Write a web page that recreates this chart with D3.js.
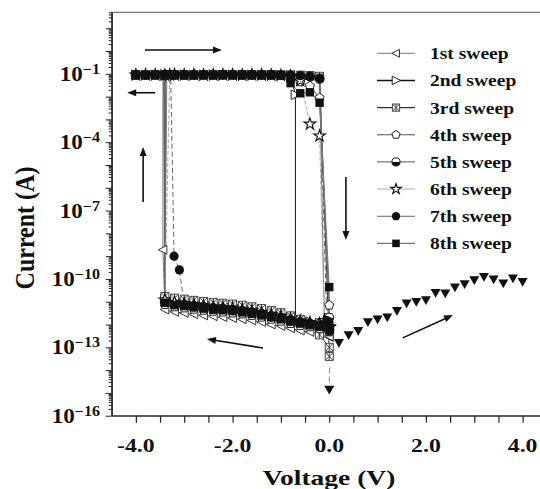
<!DOCTYPE html>
<html><head><meta charset="utf-8">
<script src="https://cdn.jsdelivr.net/npm/d3@7"></script>
<style>body{margin:0;background:#fff}svg{display:block}text{font-family:"Liberation Serif","Times New Roman",serif;font-weight:bold;fill:#111}</style>
</head><body><svg id="c" width="540" height="489"></svg>
<script>
// ---------------- data ----------------
const legendLabels = ["1st sweep","2nd sweep","3rd sweep","4th sweep","5th sweep","6th sweep","7th sweep","8th sweep"];
const xTickLabels = ["-4.0","-2.0","0.0","2.0","4.0"];
const xTickLabelValues = [-4.0,-2.0,0.0,2.0,4.0];
const yTickLabelExps = ["\u22121","\u22124","\u22127","\u221210","\u221213","\u221216"];
const yTickLabelValues = [1e-1,1e-4,1e-7,1e-10,1e-13,1e-16];

// voltage grids (V)
const lowVolt  = [0.0,-0.2,-0.4,-0.6,-0.8,-1.0,-1.2,-1.4,-1.6,-1.8,-2.0,-2.2,-2.4,-2.6,-2.8,-3.0,-3.2,-3.4];
const highVolt = [-4.0,-3.8,-3.6,-3.4,-3.2,-3.0,-2.8,-2.6,-2.4,-2.2,-2.0,-1.8,-1.6,-1.4,-1.2,-1.0,-0.8,-0.6,-0.4,-0.2];
const posVolt  = [0.0,0.2,0.4,0.6,0.8,1.0,1.2,1.4,1.6,1.8,2.0,2.2,2.4,2.6,2.8,3.0,3.2,3.4,3.6,3.8,4.0];

// sweep 1
const s1Low = [2.8e-13,4.0e-13,4.7e-13,5.4e-13,6.8e-13,8.6e-13,1.0e-12,1.3e-12,1.5e-12,1.7e-12,1.9e-12,2.1e-12,2.3e-12,2.5e-12,2.8e-12,3.2e-12,3.6e-12,4.5e-12];
const s1SetV = [-3.44,-3.44], s1SetI = [1.9e-9,0.088];
const s1High = [0.088,0.090,0.092,0.090,0.089,0.091,0.090,0.092,0.090,0.091,0.089,0.090,0.092,0.090,0.091,0.090,0.088,0.086,0.080,0.070];
const s1ResetV = [-0.1,0.0], s1ResetI = [1.2e-12,3.0e-13];
// sweep 2
const s2Low = [8.2e-13,1.15e-12,1.35e-12,1.55e-12,1.95e-12,2.5e-12,3.0e-12,3.6e-12,4.3e-12,4.9e-12,5.6e-12,6.1e-12,6.5e-12,7.3e-12,8.2e-12,9.2e-12,1.0e-11,1.3e-11];
const s2SetV = [-3.4], s2SetI = [0.092];
const s2High = [0.092,0.090,0.091,0.093,0.090,0.092,0.090,0.091,0.093,0.090,0.092,0.090,0.091,0.090,0.089,0.088,0.085];
const s2ResetV = [-0.7,-0.7,-0.6,-0.4,-0.2,0.0], s2ResetI = [0.012,2.0e-12,1.3e-12,1.1e-12,9.0e-13,7.0e-13];
// sweep 3
const s3Low = [1.0e-13,3.5e-13,9.0e-13,1.7e-12,2.4e-12,3.3e-12,4.1e-12,5.0e-12,6.0e-12,7.0e-12,7.9e-12,8.6e-12,9.2e-12,1.03e-11,1.15e-11,1.3e-11,1.45e-11,1.7e-11];
const s3SetV = [-3.42], s3SetI = [0.090];
const s3High = [0.090,0.091,0.089,0.092,0.090,0.088,0.091,0.090,0.089,0.092,0.090,0.091,0.089,0.090,0.092,0.090,0.089,0.087,0.084,0.078];
const s3ResetV = [-0.02,0.0], s3ResetI = [2.0e-12,4.0e-14];
// sweep 4
const s4Low = [4.7e-13,6.7e-13,7.9e-13,9.0e-13,1.1e-12,1.4e-12,1.7e-12,2.1e-12,2.5e-12,2.9e-12,3.2e-12,3.5e-12,3.8e-12,4.2e-12,4.7e-12,5.3e-12,5.9e-12,7.5e-12];
const s4SetV = [-3.38], s4SetI = [0.087];
const s4High = [0.089,0.090,0.092,0.090,0.091,0.089,0.090,0.092,0.091,0.090,0.089,0.091,0.090,0.089,0.088,0.085,0.072,0.044,0.029,0.0087];
const s4ResetV = [0.0,0.0], s4ResetI = [7.0e-12,5.0e-13];
// sweep 5
const s5Low = [6.0e-13,9.2e-13,1.0e-12,1.25e-12,1.45e-12,1.95e-12,2.2e-12,2.9e-12,3.2e-12,3.9e-12,4.2e-12,4.8e-12,4.9e-12,5.7e-12,6.1e-12,7.3e-12,7.7e-12,1.05e-11];
const s5SetV = [-3.36], s5SetI = [0.090];
const s5High = [0.091,0.089,0.090,0.092,0.090,0.091,0.089,0.090,0.091,0.090,0.092,0.089,0.090,0.091,0.090,0.088,0.086,0.082,0.075,0.060];
const s5ResetV = [0.0,0.0], s5ResetI = [2.0e-12,5.5e-13];
// sweep 6
const s6Low = [7.5e-13,1.1e-12,1.25e-12,1.45e-12,1.8e-12,2.3e-12,2.75e-12,3.35e-12,4.0e-12,4.6e-12,5.2e-12,5.6e-12,6.0e-12,6.7e-12,7.6e-12,8.5e-12,9.5e-12,1.2e-11];
const s6SetV = [-3.3], s6SetI = [0.090];
const s6High = [0.090,0.092,0.090,0.089,0.091,0.090,0.092,0.089,0.090,0.091,0.090,0.089,0.091,0.090,0.088,0.086,0.080,0.050];
const s6ResetV = [-0.4,-0.2,-0.1,0.0], s6ResetI = [6.3e-4,1.9e-4,1.5e-12,8.0e-13];
// sweep 7
const s7Low = [7.0e-13,9.8e-13,1.15e-12,1.3e-12,1.65e-12,2.1e-12,2.5e-12,3.1e-12,3.6e-12,4.2e-12,4.7e-12,5.2e-12,5.5e-12,6.2e-12,6.9e-12,7.8e-12];
const s7SetV = [-3.1,-3.21,-3.28], s7SetI = [2.5e-10,1.0e-9,0.090];
const s7High = [0.089,0.091,0.090,0.092,0.089,0.090,0.091,0.090,0.089,0.092,0.090,0.091,0.090,0.089,0.090,0.088,0.086,0.083,0.078,0.065];
const s7ResetV = [-0.05,0.0], s7ResetI = [1.5e-12,6.5e-13];
// sweep 8
const s8Low = [5.7e-13,8.0e-13,9.5e-13,1.1e-12,1.35e-12,1.7e-12,2.1e-12,2.5e-12,3.0e-12,3.4e-12,3.9e-12,4.2e-12,4.5e-12,5.0e-12,5.7e-12,6.4e-12,7.1e-12,9.0e-12];
const s8SetV = [-3.4], s8SetI = [0.088];
const s8High = [0.090,0.089,0.091,0.090,0.092,0.090,0.089,0.091,0.090,0.092,0.089,0.090,0.091,0.090,0.089,0.085,0.039,0.014,0.0155,0.0054];
const s8ResetV = [0.0,0.0], s8ResetI = [4.4e-11,1.0e-12];
// positive sweep (0 -> 4 V)
const posCurr = [1.4e-15,1.6e-13,3.5e-13,5.4e-13,1.3e-12,1.7e-12,2.1e-12,4.0e-12,8.5e-12,1.0e-11,1.2e-11,2.5e-11,2.35e-11,4.3e-11,6.0e-11,9.0e-11,1.26e-10,9.7e-11,6.5e-11,1.07e-10,7.6e-11];
// faint dashed trace above the lowest point at 0 V
const tailVolt = [0.01,0.0], tailCurr = [1.3e-14,3.0e-15];

// annotation arrows in data units [V, A] start -> end
const arrowStarts = [[-3.81,1.11],[-3.60,0.0148],[-3.85,2.4e-7],[0.345,3.0e-6],[-1.37,9.3e-14],[1.52,2.6e-13]];
const arrowEnds   = [[-2.22,1.11],[-4.18,0.0148],[-3.85,6.2e-5],[0.345,5.1e-9],[-2.53,2.3e-13],[2.56,2.6e-12]];

// ---------------- chart ----------------
const svg = d3.select("#c");
const x = d3.scaleLinear().domain([-4.5,4.5]).range([111.7,546.8]);
const y = d3.scaleLog().domain([1e-16,50]).range([415.7,12.3]);

function stext(g, tx, ty, str, size, anchor, sx){
  return g.append("text").attr("transform",`translate(${tx},${ty}) scale(${sx},1)`)
    .attr("text-anchor",anchor).attr("font-size",size).text(str);
}

// frame
svg.append("rect").attr("x",x(-4.5)).attr("y",y(50)).attr("width",x(4.5)-x(-4.5)).attr("height",y(1e-16)-y(50))
  .attr("fill","none").attr("stroke","#555").attr("stroke-width",1);

// y axis ticks
const decades = d3.range(-16,2);
const majorTicks = decades.map(e=>Math.pow(10,e));
const minorTicks = [];
decades.forEach(e=>{for(let m=2;m<=9;m++){const v=m*Math.pow(10,e); if(v<=50) minorTicks.push(v);}});
const yAxMajor = svg.append("g").attr("transform",`translate(${x(-4.5)},0)`)
  .call(d3.axisLeft(y).tickValues(majorTicks).tickSize(6).tickSizeOuter(0).tickFormat(""));
const yAxMinor = svg.append("g").attr("transform",`translate(${x(-4.5)},0)`)
  .call(d3.axisLeft(y).tickValues(minorTicks).tickSize(3).tickSizeOuter(0).tickFormat(""));
[yAxMajor,yAxMinor].forEach(g=>{g.selectAll("line").attr("stroke","#222"); g.select(".domain").attr("stroke","#222");});

// x axis ticks
const xTickVals = d3.range(-4.0,4.51,0.5);
const xAx = svg.append("g").attr("transform",`translate(0,${y(1e-16)})`)
  .call(d3.axisBottom(x).tickValues(xTickVals).tickSize(7).tickSizeOuter(0).tickFormat(""));
xAx.selectAll("line").attr("stroke","#222").attr("stroke-width",1.2);
xAx.select(".domain").attr("stroke","#222");

// tick labels
xTickLabels.forEach((t,i)=> stext(svg, x(xTickLabelValues[i]), 452, t, 19, "middle", 1.25));
yTickLabelExps.forEach((t,i)=>{
  const tx = svg.append("text").attr("transform",`translate(100,${y(yTickLabelValues[i])+7}) scale(1.15,1)`)
    .attr("text-anchor","end").attr("font-size",20);
  tx.append("tspan").text("10");
  tx.append("tspan").attr("dy",-7).attr("font-size",14).text(t);
});

// axis titles
stext(svg, 329, 485, "Voltage (V)", 22, "middle", 1.25);
svg.append("text").attr("transform","translate(34,228) scale(1.15,1) rotate(-90)")
  .attr("text-anchor","middle").attr("font-size",24).text("Current (A)");

// markers
function pentPath(r){
  const p = d3.range(5).map(k=>{const a=-Math.PI/2+k*2*Math.PI/5; return [r*Math.cos(a), r*Math.sin(a)];});
  return "M"+p.map(d=>d.join(",")).join("L")+"Z";
}
function drawMarker(g, type, r){
  if(type==="triL") g.append("path").attr("d",`M${-r},0L${r*0.85},${-r*0.95}L${r*0.85},${r*0.95}Z`).attr("fill","#fff").attr("stroke","#333");
  else if(type==="triR") g.append("path").attr("d",`M${r},0L${-r*0.85},${-r*0.95}L${-r*0.85},${r*0.95}Z`).attr("fill","#fff").attr("stroke","#222");
  else if(type==="xsq") g.append("path").attr("d",`M${-r},${-r}H${r}V${r}H${-r}ZM${-r},${-r}L${r},${r}M${r},${-r}L${-r},${r}M0,${-r}V${r}`).attr("fill","#fff").attr("stroke","#333").attr("stroke-width",0.9);
  else if(type==="pent") g.append("path").attr("d",pentPath(r)).attr("fill","#fff").attr("stroke","#222");
  else if(type==="half"){
    g.append("circle").attr("r",r).attr("fill","#fff").attr("stroke","#111");
    g.append("path").attr("d",`M${-r},0A${r},${r} 0 0 0 ${r},0Z`).attr("fill","#111");
  }
  else if(type==="star") g.append("path").attr("d",d3.symbol(d3.symbolStar).size(r*r*2.0)()).attr("fill","#fff").attr("stroke","#111").attr("stroke-width",1.1);
  else if(type==="dot") g.append("circle").attr("r",r).attr("fill","#111");
  else if(type==="sq") g.append("rect").attr("x",-r).attr("y",-r).attr("width",2*r).attr("height",2*r).attr("fill","#111");
  else if(type==="triD") g.append("path").attr("d",`M${-r},${-r*0.75}H${r}L0,${r*1.0}Z`).attr("fill","#111");
}

function buildPoints(low, setV, setI, high, resetV, resetI){
  return low.map((c,i)=>[lowVolt[i],c])
    .concat(setV.map((v,i)=>[v,setI[i]]))
    .concat(high.map((c,i)=>[highVolt[i],c]))
    .concat(resetV.map((v,i)=>[v,resetI[i]]));
}
const sweeps = [
  {pts:buildPoints(s1Low,s1SetV,s1SetI,s1High,s1ResetV,s1ResetI), m:"triL", r:4.6, c:"#777", w:1, dash:null},
  {pts:buildPoints(s2Low,s2SetV,s2SetI,s2High,s2ResetV,s2ResetI), m:"triR", r:5.0, c:"#111", w:1, dash:null},
  {pts:buildPoints(s3Low,s3SetV,s3SetI,s3High,s3ResetV,s3ResetI), m:"xsq",  r:4.0, c:"#333", w:1, dash:null},
  {pts:buildPoints(s4Low,s4SetV,s4SetI,s4High,s4ResetV,s4ResetI), m:"pent", r:4.8, c:"#555", w:1, dash:null},
  {pts:buildPoints(s5Low,s5SetV,s5SetI,s5High,s5ResetV,s5ResetI), m:"half", r:4.5, c:"#777", w:1, dash:null},
  {pts:buildPoints(s6Low,s6SetV,s6SetI,s6High,s6ResetV,s6ResetI), m:"star", r:4.6, c:"#aaa", w:1, dash:"4,2"},
  {pts:buildPoints(s7Low,s7SetV,s7SetI,s7High,s7ResetV,s7ResetI), m:"dot",  r:4.6, c:"#666", w:1, dash:"5,3"},
  {pts:buildPoints(s8Low,s8SetV,s8SetI,s8High,s8ResetV,s8ResetI), m:"sq",   r:4.2, c:"#777", w:1, dash:null}
];
const line = d3.line().x(d=>x(d[0])).y(d=>y(d[1]));
const plot = svg.append("g");
sweeps.forEach(s=>{
  plot.append("path").attr("d",line(s.pts)).attr("fill","none").attr("stroke",s.c).attr("stroke-width",s.w)
    .attr("stroke-dasharray",s.dash);
});
plot.append("path").attr("d",line(tailVolt.map((v,i)=>[v,tailCurr[i]]))).attr("fill","none")
  .attr("stroke","#888").attr("stroke-width",1).attr("stroke-dasharray","6,3");
sweeps.forEach(s=>{
  s.pts.forEach(p=>{
    const g = plot.append("g").attr("transform",`translate(${x(p[0])},${y(p[1])})`);
    drawMarker(g, s.m, s.r);
  });
});
posVolt.forEach((v,i)=>{
  const g = plot.append("g").attr("transform",`translate(${x(v)},${y(posCurr[i])})`);
  drawMarker(g,"triD",5);
});

// arrows
arrowStarts.forEach((s,i)=>{
  const e = arrowEnds[i];
  const x1=x(s[0]), y1=y(s[1]), x2=x(e[0]), y2=y(e[1]);
  const a=Math.atan2(y2-y1,x2-x1), L=9, W=3.5;
  svg.append("line").attr("x1",x1).attr("y1",y1).attr("x2",x2-Math.cos(a)*L*0.7).attr("y2",y2-Math.sin(a)*L*0.7)
    .attr("stroke","#111").attr("stroke-width",1.6);
  const bx=x2-Math.cos(a)*L, by=y2-Math.sin(a)*L;
  svg.append("path").attr("d",`M${x2},${y2}L${bx-Math.sin(a)*W},${by+Math.cos(a)*W}L${bx+Math.sin(a)*W},${by-Math.cos(a)*W}Z`).attr("fill","#111");
});

// legend
legendLabels.forEach((lab,i)=>{
  const yc = 53.3 + i*27.15;
  const s = sweeps[i];
  svg.append("line").attr("x1",377).attr("x2",415).attr("y1",yc).attr("y2",yc)
    .attr("stroke",s.c).attr("stroke-width",i===1?1.6:1.1);
  const g = svg.append("g").attr("transform",`translate(396,${yc})`);
  drawMarker(g, s.m, s.r*0.9);
  stext(svg, 430, yc+6, lab, 17, "start", 1.15);
});
</script></body></html>
